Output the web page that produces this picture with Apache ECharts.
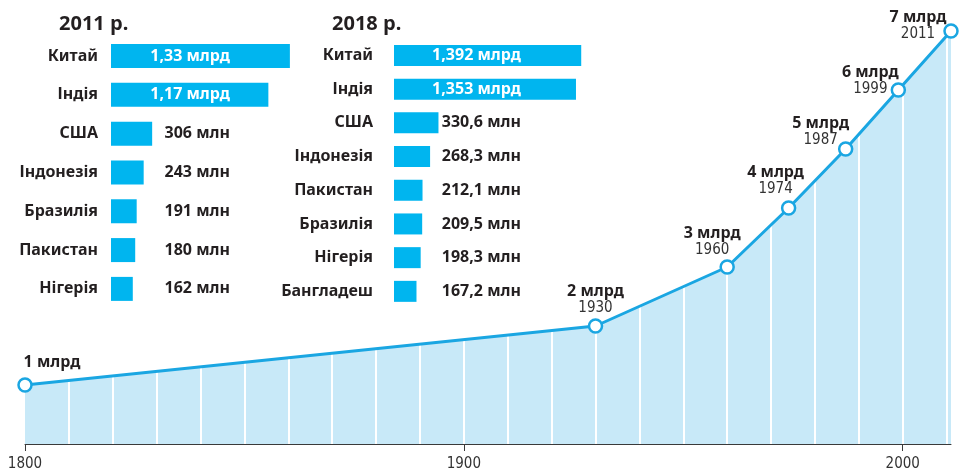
<!DOCTYPE html>
<html>
<head>
<meta charset="utf-8">
<script src="https://cdn.jsdelivr.net/npm/echarts@6/dist/echarts.min.js"></script>
<style>
  html, body { margin: 0; padding: 0; background: #fff; }
  #chart { width: 960px; height: 472px; }
</style>
</head>
<body>
<div id="chart"></div>
<script>
// World population milestones
const years = [1800, 1930, 1960, 1974, 1987, 1999, 2011];
const billions = [1, 2, 3, 4, 5, 6, 7];
const axisYears = [1800, 1900, 2000];

// Most populous countries, millions of people
const countries2011 = ['Китай', 'Індія', 'США', 'Індонезія', 'Бразилія', 'Пакистан', 'Нігерія'];
const pop2011 = [1330, 1170, 306, 243, 191, 180, 162];
const countries2018 = ['Китай', 'Індія', 'США', 'Індонезія', 'Пакистан', 'Бразилія', 'Нігерія', 'Бангладеш'];
const pop2018 = [1392, 1353, 330.6, 268.3, 212.1, 209.5, 198.3, 167.2];

// Label nudges for the milestone captions (px)
const captionShift = [[27, -1], [0, 2], [-15, 3], [-13, 1], [-25, 11], [-28, 19], [-33, 23]];

const BOLD = '"Noto Sans", "DejaVu Sans", sans-serif';
const NARROW = '"Liberation Sans Narrow", "DejaVu Sans Condensed", "Roboto Condensed", sans-serif';
const INK = '#231f20';
const LINE = '#1aa6e2';
const AREA = '#c8e9f8';
const BAR = '#00b5ef';

function popText(v) {
  return v >= 1000
    ? String(v / 1000).replace('.', ',') + ' млрд'
    : String(v).replace('.', ',') + ' млн';
}

const points = years.map((y, i) => [y, billions[i]]);

function barBlock(gridIdx, cats, vals, valueOffset, nameMargin) {
  const yAxes = [
    {
      gridIndex: gridIdx, type: 'category', data: cats, inverse: true, z: 10,
      axisLine: { show: false }, axisTick: { show: false }, splitLine: { show: false },
      axisLabel: { interval: 0, margin: nameMargin, color: INK, fontFamily: BOLD, fontWeight: 'bold', fontSize: 16 }
    },
    {
      gridIndex: gridIdx, type: 'category', data: cats, inverse: true, z: 10,
      position: 'left', offset: -valueOffset,
      axisLine: { show: false }, axisTick: { show: false }, splitLine: { show: false },
      axisLabel: {
        interval: 0, margin: 0, fontFamily: BOLD, fontWeight: 'bold', fontSize: 16,
        formatter: (name) => popText(vals[cats.indexOf(name)]),
        color: (name) => vals[cats.indexOf(name)] >= 1000 ? '#ffffff' : INK
      }
    }
  ];
  const xAxis = { gridIndex: gridIdx, type: 'value', min: 0, max: 1400, show: false };
  return { yAxes, xAxis };
}

const b1 = barBlock(1, countries2011, pop2011, 119, 13);
const b2 = barBlock(2, countries2018, pop2018, 127, 21);

const option = {
  animation: false,
  backgroundColor: '#ffffff',
  title: [
    { text: '2011 р.', left: 54, top: 9, textStyle: { fontFamily: BOLD, fontWeight: 'bold', fontSize: 20, color: INK } },
    { text: '2018 р.', left: 327, top: 9, textStyle: { fontFamily: BOLD, fontWeight: 'bold', fontSize: 20, color: INK } }
  ],
  grid: [
    { left: 25, right: 9, top: 31, bottom: 27 },
    { left: 111, top: 36.6, width: 188.3, height: 271.7 },
    { left: 394, top: 38.6, width: 188.3, height: 269.6 }
  ],
  xAxis: [
    {
      gridIndex: 0, type: 'value', min: 1800, max: 2011, interval: 100, position: 'bottom', z: 3,
      axisLine: { lineStyle: { color: '#3a3a3a', width: 1 } },
      axisTick: { customValues: axisYears, length: 7, lineStyle: { color: '#3a3a3a', width: 1 } },
      axisLabel: {
        customValues: axisYears, margin: 13, color: '#333', fontFamily: NARROW, fontSize: 15,
        formatter: (v) => String(v)
      },
      splitLine: { show: false }
    },
    {
      // decade dividers across the filled area
      gridIndex: 0, type: 'value', min: 1800, max: 2011, interval: 10, position: 'bottom', z: 2,
      axisLine: { show: false }, axisTick: { show: false }, axisLabel: { show: false },
      splitLine: { show: true, showMinLine: false, showMaxLine: false, lineStyle: { color: '#ffffff', width: 2 } }
    },
    b1.xAxis,
    b2.xAxis
  ],
  yAxis: [
    { gridIndex: 0, type: 'value', min: 0, max: 7, show: false },
    b1.yAxes[0], b1.yAxes[1],
    b2.yAxes[0], b2.yAxes[1]
  ],
  series: [
    {
      type: 'line', xAxisIndex: 0, yAxisIndex: 0, z: 1, silent: true,
      data: points, showSymbol: false, symbol: 'none',
      lineStyle: { width: 0 }, areaStyle: { color: AREA, opacity: 1 }
    },
    {
      type: 'line', xAxisIndex: 0, yAxisIndex: 0, z: 4, silent: true, clip: false,
      data: points.map((p, i) => ({ value: p, label: { offset: captionShift[i] } })),
      symbol: 'circle', symbolSize: 13,
      itemStyle: { color: '#ffffff', borderColor: LINE, borderWidth: 2.5 },
      lineStyle: { color: LINE, width: 3 },
      label: {
        show: true, position: 'top', distance: 5, align: 'center',
        formatter: (p) => p.dataIndex === 0
          ? '{b|' + p.value[1] + ' млрд}'
          : '{b|' + p.value[1] + ' млрд}\n{y|' + p.value[0] + '}',
        rich: {
          b: { fontFamily: BOLD, fontWeight: 'bold', fontSize: 16, color: INK, lineHeight: 18, align: 'center' },
          y: { fontFamily: NARROW, fontSize: 15, color: '#333', lineHeight: 15, align: 'center' }
        }
      }
    },
    {
      type: 'bar', xAxisIndex: 2, yAxisIndex: 1, z: 5, silent: true,
      data: pop2011, barWidth: 24, itemStyle: { color: BAR }
    },
    {
      type: 'bar', xAxisIndex: 3, yAxisIndex: 3, z: 5, silent: true,
      data: pop2018, barWidth: 21, itemStyle: { color: BAR }
    }
  ]
};

const chart = echarts.init(document.getElementById('chart'), null, { renderer: 'canvas' });
chart.setOption(option);
</script>
</body>
</html>
